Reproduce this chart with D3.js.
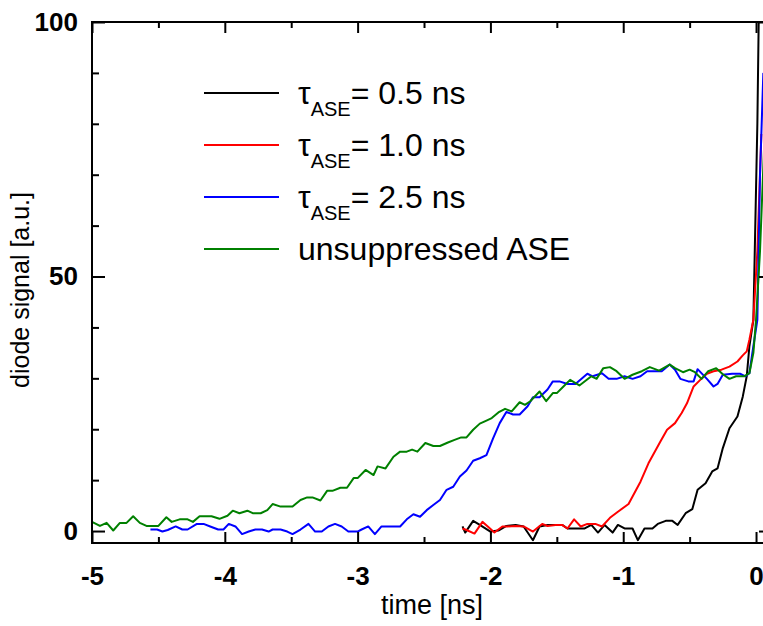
<!DOCTYPE html>
<html>
<head>
<meta charset="utf-8">
<script src="https://cdn.jsdelivr.net/npm/d3@7"></script>
<style>
  body { margin: 0; background: #fff; }
  text { font-family: "Liberation Sans", Arial, sans-serif; }
</style>
</head>
<body>
<div id="chart"></div>
<script>
// time [ns] and diode signal [a.u.] for each trace
const greenT = [-5.00,-4.94,-4.89,-4.84,-4.79,-4.74,-4.69,-4.64,-4.59,-4.54,-4.50,-4.44,-4.40,-4.34,-4.28,-4.24,-4.19,-4.14,-4.10,-4.04,-3.98,-3.94,-3.89,-3.83,-3.79,-3.73,-3.68,-3.64,-3.58,-3.54,-3.49,-3.43,-3.38,-3.34,-3.28,-3.23,-3.19,-3.13,-3.08,-3.03,-3.00,-2.94,-2.88,-2.85,-2.79,-2.73,-2.68,-2.63,-2.59,-2.55,-2.49,-2.43,-2.38,-2.32,-2.27,-2.22,-2.18,-2.13,-2.08,-2.03,-1.99,-1.94,-1.89,-1.84,-1.78,-1.74,-1.70,-1.63,-1.58,-1.53,-1.50,-1.45,-1.40,-1.33,-1.24,-1.20,-1.15,-1.10,-1.05,-0.99,-0.93,-0.86,-0.80,-0.73,-0.65,-0.61,-0.55,-0.50,-0.46,-0.41,-0.36,-0.30,-0.25,-0.20,-0.15,-0.09,-0.05,-0.02,0.00,0.03,0.06];
const greenV = [1.8,1.0,1.6,0.1,1.6,1.6,2.9,1.6,1.0,1.0,1.0,2.7,1.8,2.3,2.3,1.8,2.9,2.9,2.9,2.4,3.0,4.0,3.5,4.0,3.5,3.5,4.1,5.3,4.8,4.8,4.8,6.1,6.6,6.6,6.0,7.9,7.9,8.5,8.5,10.4,10.4,12.0,11.0,12.7,12.3,14.6,15.6,15.6,16.0,15.6,17.3,16.7,16.7,17.4,17.9,18.4,18.4,19.9,21.1,21.7,22.2,23.3,24.0,23.5,25.3,24.8,25.5,27.4,25.5,27.1,27.1,28.4,29.7,28.6,30.4,29.9,32.0,32.2,31.4,29.9,30.7,31.4,32.2,31.5,32.7,32.0,31.2,31.7,31.2,29.9,31.4,32.0,30.8,29.9,30.4,30.4,31.0,35.0,41.5,55.0,75.0];

const blueT = [-4.56,-4.51,-4.47,-4.43,-4.37,-4.32,-4.28,-4.21,-4.16,-4.11,-4.05,-4.01,-3.97,-3.92,-3.87,-3.82,-3.77,-3.72,-3.67,-3.64,-3.58,-3.53,-3.49,-3.43,-3.37,-3.32,-3.27,-3.22,-3.17,-3.12,-3.07,-3.00,-2.97,-2.92,-2.87,-2.82,-2.76,-2.68,-2.63,-2.58,-2.53,-2.48,-2.43,-2.38,-2.33,-2.28,-2.23,-2.18,-2.13,-2.08,-2.03,-1.98,-1.93,-1.88,-1.83,-1.78,-1.72,-1.68,-1.63,-1.57,-1.53,-1.48,-1.42,-1.36,-1.27,-1.23,-1.16,-1.11,-1.05,-0.99,-0.93,-0.87,-0.82,-0.76,-0.71,-0.65,-0.61,-0.57,-0.51,-0.47,-0.44,-0.37,-0.32,-0.29,-0.25,-0.18,-0.12,-0.08,-0.05,-0.02,0.01,0.03,0.055];
const blueV = [0.3,0.3,-0.1,0.2,0.9,0.3,0.3,1.4,1.4,0.9,0.3,0.3,1.4,0.9,-0.6,-0.1,0.3,0.3,-0.1,0.3,0.3,-0.1,-0.6,0.3,1.4,-0.1,-0.1,0.9,1.4,0.9,-0.1,-0.1,0.3,0.9,-0.6,0.9,0.9,0.9,2.3,3.3,2.8,4.1,5.1,6.1,8.1,8.7,10.7,11.9,13.8,14.3,14.9,18.2,21.2,23.4,22.9,22.9,24.5,26.3,26.3,27.8,29.4,29.4,28.9,28.9,30.9,30.4,31.0,29.9,29.9,30.4,29.9,30.4,31.4,31.4,31.4,32.7,31.7,29.9,29.4,29.4,31.8,29.9,28.4,28.9,30.7,30.9,30.9,30.4,31.0,36.3,41.5,70.0,90.0];

const redT = [-2.21,-2.18,-2.12,-2.06,-2.02,-1.97,-1.91,-1.87,-1.81,-1.75,-1.68,-1.61,-1.57,-1.51,-1.46,-1.42,-1.37,-1.32,-1.27,-1.21,-1.16,-1.10,-1.04,-0.96,-0.87,-0.81,-0.72,-0.67,-0.61,-0.56,-0.52,-0.47,-0.42,-0.37,-0.32,-0.26,-0.20,-0.14,-0.10,-0.07,-0.05,-0.02,0.01,0.04];
const redV = [0.5,0.2,-0.5,1.8,0.9,-0.3,0.9,0.9,1.0,0.9,-0.1,1.4,1.0,1.2,1.2,0.5,2.3,0.9,1.4,1.4,0.9,2.6,3.8,5.3,9.7,13.3,17.6,19.9,21.2,23.2,25.1,28.4,29.7,30.9,31.4,31.7,32.3,33.3,34.5,35.3,37.6,41.5,55.0,78.0];

const blackT = [-2.21,-2.19,-2.13,-2.08,-2.00,-1.94,-1.88,-1.81,-1.75,-1.68,-1.63,-1.57,-1.51,-1.46,-1.42,-1.35,-1.29,-1.24,-1.19,-1.14,-1.08,-1.04,-0.99,-0.93,-0.89,-0.84,-0.78,-0.74,-0.68,-0.63,-0.59,-0.53,-0.48,-0.44,-0.38,-0.33,-0.29,-0.25,-0.20,-0.14,-0.10,-0.07,-0.05,-0.02,0.01,0.02,0.03];
const blackV = [0.9,-0.3,2.0,1.2,-0.1,0.1,1.0,1.2,0.9,-1.8,0.9,1.2,1.2,1.2,0.5,0.5,0.5,1.2,-0.3,1.2,-0.3,1.2,0.5,0.5,-1.8,0.5,0.5,1.4,2.0,2.0,1.2,3.5,4.3,8.1,9.4,11.7,12.3,16.3,20.2,22.5,26.4,30.4,36.3,41.5,80.0,100.0,106.0];

const seriesColors = ["#000000", "#ff0000", "#0000ff", "#008000"];
const legendLabels = ["= 0.5 ns", "= 1.0 ns", "= 2.5 ns", "unsuppressed ASE"];

const xMajor = [-5, -4, -3, -2, -1, 0];
const xMinor = [-4.5, -3.5, -2.5, -1.5, -0.5];
const yMajor = [0, 50, 100];
const yMinor = [10, 20, 30, 40, 60, 70, 80, 90];

const width = 763, height = 626;
const m = { left: 92, right: 764, top: 22, bottom: 543 };

const svg = d3.select("#chart").append("svg")
   .attr("width", width)
   .attr("height", height);

const x = d3.scaleLinear().domain([-5, 0.06]).range([m.left, m.right]);
const y = d3.scaleLinear().domain([-2.35, 100]).range([m.bottom, m.top]);

svg.append("clipPath").attr("id", "plot")
   .append("rect")
   .attr("x", m.left).attr("y", m.top)
   .attr("width", m.right - m.left).attr("height", m.bottom - m.top);

const traces = [
   { t: blackT, v: blackV, c: seriesColors[0] },
   { t: redT, v: redV, c: seriesColors[1] },
   { t: blueT, v: blueV, c: seriesColors[2] },
   { t: greenT, v: greenV, c: seriesColors[3] }
];

const line = d3.line()
   .x((d) => x(d[0]))
   .y((d) => y(d[1]));

svg.append("g")
   .attr("clip-path", "url(#plot)")
   .selectAll("path")
   .data(traces)
   .enter()
   .append("path")
   .attr("d", (d) => line(d3.zip(d.t, d.v)))
   .attr("fill", "none")
   .attr("stroke", (d) => d.c)
   .attr("stroke-width", 2)
   .attr("stroke-linejoin", "round");

// inward ticks, frame drawn separately
function styleAxis(g) {
   g.select(".domain").remove();
   g.selectAll(".tick line").attr("stroke", "#000").attr("stroke-width", 2);
   g.selectAll("text")
      .attr("fill", "#000")
      .style("font-size", "26px")
      .style("font-weight", "bold");
}

svg.append("g")
   .attr("transform", "translate(0," + m.bottom + ")")
   .call(d3.axisBottom(x).tickValues(xMajor).tickSize(-11).tickPadding(24).tickFormat((d) => String(d)))
   .call(styleAxis);
svg.append("g")
   .attr("transform", "translate(0," + m.bottom + ")")
   .call(d3.axisBottom(x).tickValues(xMinor).tickSize(-6).tickFormat(""))
   .call(styleAxis);
svg.append("g")
   .attr("transform", "translate(0," + m.top + ")")
   .call(d3.axisTop(x).tickValues(xMajor).tickSize(-11).tickFormat(""))
   .call(styleAxis);
svg.append("g")
   .attr("transform", "translate(0," + m.top + ")")
   .call(d3.axisTop(x).tickValues(xMinor).tickSize(-6).tickFormat(""))
   .call(styleAxis);

svg.append("g")
   .attr("transform", "translate(" + m.left + ",0)")
   .call(d3.axisLeft(y).tickValues(yMajor).tickSize(-13).tickPadding(14).tickFormat((d) => String(d)))
   .call(styleAxis);
svg.append("g")
   .attr("transform", "translate(" + m.left + ",0)")
   .call(d3.axisLeft(y).tickValues(yMinor).tickSize(-7).tickFormat(""))
   .call(styleAxis);
svg.append("g")
   .attr("transform", "translate(" + m.right + ",0)")
   .call(d3.axisRight(y).tickValues(yMajor).tickSize(-5).tickFormat(""))
   .call(styleAxis);

svg.append("rect")
   .attr("x", m.left).attr("y", m.top)
   .attr("width", m.right - m.left).attr("height", m.bottom - m.top)
   .attr("fill", "none")
   .attr("stroke", "#000")
   .attr("stroke-width", 2);

// axis titles
svg.append("text")
   .attr("x", 432)
   .attr("y", 614)
   .attr("text-anchor", "middle")
   .style("font-size", "27px")
   .text("time [ns]");

svg.append("text")
   .attr("transform", "rotate(-90)")
   .attr("x", -290)
   .attr("y", 29)
   .attr("text-anchor", "middle")
   .style("font-size", "25px")
   .text("diode signal [a.u.]");

// legend
const legend = svg.append("g");
const rowY = (i) => 93 + i * 52;

legend.selectAll("line")
   .data(seriesColors)
   .enter()
   .append("line")
   .attr("x1", 204).attr("x2", 279)
   .attr("y1", (d, i) => rowY(i)).attr("y2", (d, i) => rowY(i))
   .attr("stroke", (d) => d)
   .attr("stroke-width", 2);

legendLabels.forEach((lab, i) => {
   const t = legend.append("text")
      .attr("x", 298)
      .attr("y", rowY(i) + 11)
      .style("font-size", "32px");
   if (i < 3) {
      t.append("tspan").text("\u03c4");
      t.append("tspan").attr("dy", 12).style("font-size", "20px").text("ASE");
      t.append("tspan").attr("dy", -12).text(lab);
   } else {
      t.text(lab);
   }
});
</script>
</body>
</html>
